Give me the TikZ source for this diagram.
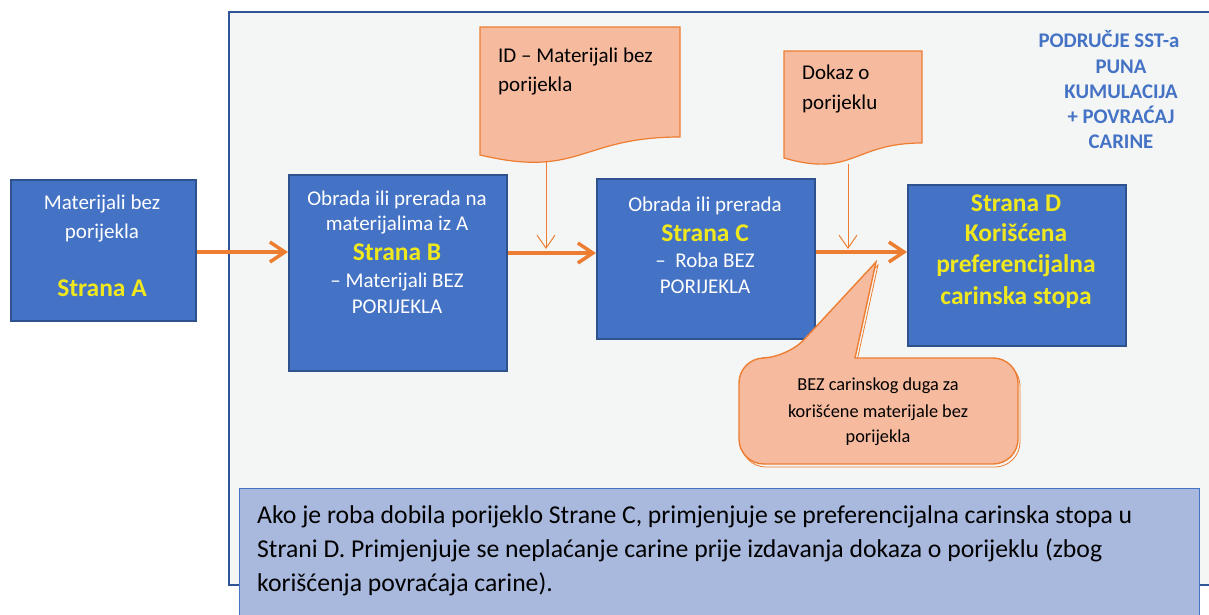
\documentclass[tikz,border=0pt]{standalone}
\usepackage{fontspec}
\setmainfont{Carlito}
\usetikzlibrary{arrows.meta}
\definecolor{boxblue}{RGB}{68,114,196}
\definecolor{boxedge}{RGB}{47,82,143}
\definecolor{orangec}{RGB}{237,125,49}
\definecolor{peach}{RGB}{246,186,158}
\definecolor{framebg}{RGB}{244,246,246}
\definecolor{frameedge}{RGB}{47,85,151}
\definecolor{notefill}{RGB}{169,185,221}
\definecolor{noteedge}{RGB}{68,114,196}
\definecolor{yel}{RGB}{240,232,30}
\definecolor{titleblue}{RGB}{68,114,196}
\begin{document}
\begin{tikzpicture}[x=1pt,y=-1pt,
  stagebox/.style={draw=boxedge, line width=1.6pt, fill=boxblue, inner sep=0pt, anchor=north west},
  wt/.style={text=white, font=\fontsize{21}{25}\selectfont, anchor=base, inner sep=0pt},
  yt/.style={text=yel, font=\fontsize{25.5}{30}\selectfont\bfseries, anchor=base, inner sep=0pt},
  bt/.style={text=black, font=\fontsize{21}{25}\selectfont, anchor=base west, inner sep=0pt},
  ct/.style={text=black, font=\fontsize{18.3}{22}\selectfont, anchor=base, inner sep=0pt},
  tb/.style={text=titleblue, font=\fontsize{20.8}{25}\selectfont\bfseries, anchor=base, inner sep=0pt},
  nt/.style={text=black, font=\fontsize{25.7}{30}\selectfont, anchor=base west, inner sep=0pt},
  bigarrow/.style={draw=orangec, line width=3.5pt, -{Straight Barb[length=15pt,width=20pt]}},
  thinarrow/.style={draw=orangec, line width=1pt, -{Straight Barb[length=13pt,width=18pt]}},
  docshape/.style={draw=orangec, line width=1.2pt, fill=peach},
]
\useasboundingbox (0,0) rectangle (1209,614);
\fill[white] (0,0) rectangle (1209,614);

% region frame
\draw[draw=frameedge, line width=2pt, fill=framebg] (229,12) rectangle (1220,585);

% top right title
\node[tb] (t1) at (1109,47) {PODRUČJE SST-a};
\node[tb] (t2) at (1121,73) {PUNA};
\node[tb] (t3) at (1121,98) {KUMULACIJA};
\node[tb] (t4) at (1121,123) {+ POVRAĆAJ};
\node[tb] (t5) at (1121,148) {CARINE};

% stage boxes
\node[stagebox, minimum width=185pt, minimum height=141pt] (A) at (10,179) {};
\node[stagebox, minimum width=218pt, minimum height=196pt] (B) at (288,174) {};
\node[stagebox, minimum width=218pt, minimum height=160pt] (C) at (596,178) {};
\node[stagebox, minimum width=218pt, minimum height=161pt] (D) at (907,184) {};

% box A text
\node[wt] (a1) at (102,209) {Materijali bez};
\node[wt] (a2) at (102,238) {porijekla};
\node[yt] (a3) at (102,296) {Strana A};
% box B text
\node[wt] (b1) at (397,205) {Obrada ili prerada na};
\node[wt] (b2) at (397,230) {materijalima iz A};
\node[yt] (b3) at (397,260) {Strana B};
\node[wt] (b4) at (397,287) {– Materijali BEZ};
\node[wt] (b5) at (397,313) {PORIJEKLA};
% box C text
\node[wt] (c1) at (705,211) {Obrada ili prerada};
\node[yt] (c2) at (705,241) {Strana C};
\node[wt] (c3) at (705,267) {–\ \ Roba BEZ};
\node[wt] (c4) at (705,293) {PORIJEKLA};
% box D text
\node[yt] (d1) at (1016,211) {Strana D};
\node[yt] (d2) at (1016,241) {Korišćena};
\node[yt] (d3) at (1016,272) {preferencijalna};
\node[yt] (d4) at (1016,304) {carinska stopa};

% main arrows
\draw[bigarrow] (A.east |- 0,252) -- (B.west |- 0,252);
\draw[bigarrow] (B.east |- 0,253) -- (C.west |- 0,253);
\draw[bigarrow] (C.east |- 0,252) -- (D.west |- 0,252);

% document shapes
\draw[docshape] (480,27) -- (680,27) -- (680,137)
   .. controls (580,137) and (580,178.7) .. (480,155) -- cycle;
\node[bt] (p1) at (498,62) {ID – Materijali bez};
\node[bt] (p2) at (498,91) {porijekla};
\draw[docshape] (784,51) -- (922,51) -- (922,143)
   .. controls (853,143) and (853,177.9) .. (784,158) -- cycle;
\node[bt] (q1) at (802,79) {Dokaz o};
\node[bt] (q2) at (802,109) {porijeklu};

\coordinate (doc1b) at (546,161);
\coordinate (j1) at (546,249);
\coordinate (doc2b) at (848,164);
\coordinate (j2) at (848,249);
\draw[thinarrow] (doc1b) -- (j1);
\draw[thinarrow] (doc2b) -- (j2);

% callout
\coordinate (tip) at (876,262);
\draw[draw=orangec, line width=0.8pt, shift={(2,3)}]
  [rounded corners=25pt] (739,411) |- (787,358) [sharp corners] -- (876,262) -- (855,358)
  [rounded corners=25pt] -| (1018,411) |- (739,464) -- cycle;
\draw[draw=orangec, line width=1.4pt, fill=peach]
  [rounded corners=25pt] (739,411) |- (787,358) [sharp corners] -- (tip) -- (855,358)
  [rounded corners=25pt] -| (1018,411) |- (739,464) -- cycle;
\node[ct] (k1) at (878,390) {BEZ carinskog duga za};
\node[ct] (k2) at (878,417) {korišćene materijale bez};
\node[ct] (k3) at (878,442) {porijekla};

% bottom note
\draw[draw=noteedge, line width=0.8pt, fill=notefill] (239,488) rectangle (1199,620);
\node[nt] (n1) at (257,523) {Ako je roba dobila porijeklo Strane C, primjenjuje se preferencijalna carinska stopa u};
\node[nt] (n2) at (257,557) {Strani D. Primjenjuje se neplaćanje carine prije izdavanja dokaza o porijeklu (zbog};
\node[nt] (n3) at (257,591) {korišćenja povraćaja carine).};
\end{tikzpicture}
\end{document}
